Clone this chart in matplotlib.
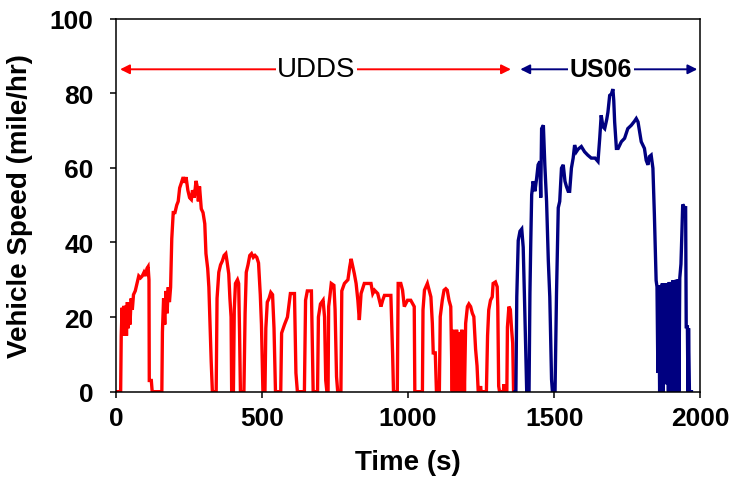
import matplotlib
matplotlib.use("Agg")
import matplotlib.pyplot as plt

# ---------------- data ----------------
udds_time = [0, 16, 18, 21, 24, 27, 30, 33, 36, 39, 42, 45, 48, 52, 56, 60, 66, 72, 78, 84,
             90, 96, 102, 106, 110, 113, 114, 121, 124, 157, 159, 163, 167, 171, 175, 179, 183, 187,
             191, 196, 202, 208, 213, 218, 224, 230, 236, 240, 246, 252, 258, 262, 268, 274, 278,
             282, 286, 292, 298, 304, 308, 314, 318, 322, 326, 330, 343, 346, 352, 358, 364, 370,
             376, 380, 386, 390, 394, 396, 402, 405, 409, 416, 420, 423, 426, 438, 442, 446, 452,
             458, 464, 470, 476, 482, 488, 494, 498, 503, 510, 513, 518, 524, 530, 536, 541, 546,
             564, 567, 577, 587, 597, 611, 616, 621, 645, 649, 655, 662, 669, 675, 690, 693, 700,
             709, 714, 718, 722, 726, 728, 732, 737, 746, 750, 755, 759, 770, 773, 782, 794, 800,
             805, 810, 816, 822, 828, 833, 839, 850, 862, 873, 879, 885, 896, 907, 913, 919, 941,
             947, 950, 963, 966, 975, 981, 987, 998, 1009, 1021, 1023, 1049, 1051, 1056, 1066,
             1072, 1078, 1083, 1086, 1093, 1097, 1107, 1110, 1117, 1123, 1129, 1134, 1140, 1146,
             1148, 1151, 1154, 1157, 1160, 1163, 1166, 1169, 1172, 1175, 1178, 1181, 1184, 1187,
             1190, 1193, 1197, 1203, 1208, 1214, 1220, 1225, 1231, 1236, 1240, 1246, 1248, 1250,
             1268, 1272, 1276, 1282, 1288, 1291, 1299, 1305, 1307, 1310, 1313, 1326, 1328, 1330,
             1338, 1340, 1345, 1350, 1354, 1358, 1361, 1366]
udds_speed = [0, 0, 15, 22.5, 15, 23, 16, 23, 15, 24, 17, 24, 18, 25, 22, 26, 27, 29, 31, 30.5,
              31, 32, 31, 33, 33.5, 30, 3, 3, 0, 0, 16, 25, 18, 27, 21, 28, 24, 28,
              41, 48, 48, 50, 51, 54.6, 56, 57.5, 56, 57.5, 54, 52, 51.5, 54, 52, 56.5, 55,
              51, 55, 49, 48, 45, 37, 33, 28, 18, 8, 0, 0, 25, 32, 34, 35, 36.5,
              37, 35, 31.6, 25, 20, 0, 0, 22, 29, 30, 29, 16, 0, 0, 21, 32, 34,
              36.5, 37, 36, 36.5, 36, 34.5, 26, 18, 0, 0, 17, 24, 25, 26.6, 26, 17, 0,
              0, 15.7, 18, 20, 26.3, 26.3, 5, 0, 0, 24.5, 27, 27, 27, 0, 0, 20, 23.5,
              24.5, 20, 3, 0, 0, 22.8, 25.4, 29, 28.5, 22, 4, 0, 0, 27, 29, 30, 33.4,
              35.6, 33.8, 31.6, 29, 24.5, 19.2, 26.3, 29, 29, 29, 26.3, 27.2, 26.3, 22.8, 24.5, 25.8, 25.8,
              10, 0, 0, 29, 29, 27.2, 22.8, 24.5, 24.5, 22.8, 0, 0, 21.9, 27.2, 29,
              27.2, 25.4, 18.3, 10.4, 10.4, 0, 0, 20.1, 24.5, 27.2, 27.6, 27.2, 24.5, 22.8,
              13.9, 0, 16.6, 0, 16, 2, 16.6, 0, 15, 3, 16, 0, 16.6, 1,
              15, 0, 18.3, 22.8, 23.5, 22.8, 21, 20.1, 11.4, 6.9, 0, 0, 1.5, 0,
              0, 15, 21.9, 24.5, 25.4, 29, 29.4, 28.1, 22.8, 1.5, 0, 0, 2, 0,
              0, 17.3, 22.8, 22, 17, 13, 0, 0]

us06_time = [1366, 1369, 1372, 1377, 1383, 1389, 1394, 1398, 1403, 1406, 1414, 1417, 1420, 1423,
             1428, 1434, 1440, 1445, 1451, 1454, 1457, 1463, 1468, 1474, 1480, 1485, 1491, 1494,
             1503, 1508, 1514, 1519, 1525, 1531, 1537, 1542, 1548, 1553, 1559, 1565, 1570, 1576,
             1582, 1593, 1604, 1615, 1627, 1640, 1650, 1656, 1661, 1667, 1673, 1680, 1684, 1690,
             1696, 1701, 1704, 1707, 1713, 1719, 1730, 1741, 1752, 1764, 1775, 1781, 1787, 1798,
             1809, 1815, 1821, 1826, 1832, 1838, 1843, 1849, 1852, 1855, 1858, 1861, 1864, 1867,
             1870, 1873, 1876, 1879, 1882, 1885, 1888, 1891, 1894, 1897, 1900, 1903, 1906, 1909,
             1912, 1915, 1918, 1921, 1924, 1927, 1930, 1934, 1937, 1940, 1946, 1950, 1952, 1956,
             1958, 1960, 1963, 1970]
us06_speed = [0, 0, 25.4, 40.5, 43, 43.6, 38.7, 26.3, 10, 0, 0, 26.3, 40.5, 52.8,
              56.4, 53.7, 57.2, 60.8, 61.7, 52, 70.5, 71.4, 60.8, 51, 35, 25.4, 3.3, 0,
              0, 26.3, 49.3, 51, 59.9, 60.8, 56.4, 55, 53.7, 53.7, 59.9, 62.6, 66.1, 64.3,
              65, 65.7, 64.3, 63.4, 62.6, 62.6, 61.7, 68, 74.1, 71, 70.5, 73, 74.9, 79.4,
              79.8, 81.1, 78, 72.3, 65.2, 65.2, 67, 67.9, 70.5, 71.4, 72.5, 73.2, 72.3, 67,
              65.2, 62, 60.8, 63, 63.4, 59.9, 47.5, 29.8, 28.1, 5, 28.5, 0, 28.5, 6,
              29, 0, 29, 8, 29, 2, 29, 0, 29.4, 7, 29.4, 0, 29.8, 6,
              29.8, 0, 30, 8, 30, 0, 30.5, 34.2, 42, 50.2, 49.3, 49.3, 17.4, 17.4,
              0, 17, 0, 0]

x_ticks = [0, 500, 1000, 1500, 2000]
y_ticks = [0, 20, 40, 60, 80, 100]
cycle_labels = ["UDDS", "US06"]
udds_span = [14, 1352]
us06_span = [1384, 1990]

# ---------------- figure ----------------
FONT = ["Liberation Sans", "DejaVu Sans"]
plt.rcParams["font.family"] = FONT

fig = plt.figure(figsize=(7.34, 4.89), dpi=100)
ax = fig.add_axes([0.158, 0.197, 0.796, 0.763])

red = "#ff0000"
navy = "#000080"
ax.plot(udds_time, udds_speed, color=red, lw=2.4, solid_joinstyle="miter")
ax.plot(us06_time, us06_speed, color=navy, lw=2.4, solid_joinstyle="miter")

ax.set_xlim(0, 2000)
ax.set_ylim(0, 100)
ax.set_xticks(x_ticks)
ax.set_yticks(y_ticks)
ax.tick_params(direction="out", length=4, width=1.1, labelsize=19)
ax.tick_params(axis="y", pad=12)
ax.tick_params(axis="x", pad=6)
for lab in ax.get_xticklabels() + ax.get_yticklabels():
    lab.set_fontweight("bold")
for sp in ax.spines.values():
    sp.set_linewidth(1.1)
    sp.set_color("black")

ax.set_xlabel("Time (s)", fontsize=20, fontweight="bold", labelpad=14)
ax.set_ylabel("Vehicle Speed (mile/hr)", fontsize=20, fontweight="bold", labelpad=12)

arrow_y = 86.4
ax.annotate("", xy=(udds_span[0], arrow_y), xytext=(udds_span[1], arrow_y),
            arrowprops=dict(arrowstyle="<|-|>", color=red, lw=1.4,
                            mutation_scale=14, shrinkA=0, shrinkB=0))
ax.annotate("", xy=(us06_span[0], arrow_y), xytext=(us06_span[1], arrow_y),
            arrowprops=dict(arrowstyle="<|-|>", color=navy, lw=1.4,
                            mutation_scale=14, shrinkA=0, shrinkB=0))
ax.text(686, arrow_y, cycle_labels[0], fontsize=20, ha="center", va="center",
        bbox=dict(facecolor="white", edgecolor="none", pad=1))
ax.text(1660, arrow_y, cycle_labels[1], fontsize=18, fontweight="bold", ha="center", va="center",
        bbox=dict(facecolor="white", edgecolor="none", pad=1))

fig.savefig("out.png", dpi=100)
